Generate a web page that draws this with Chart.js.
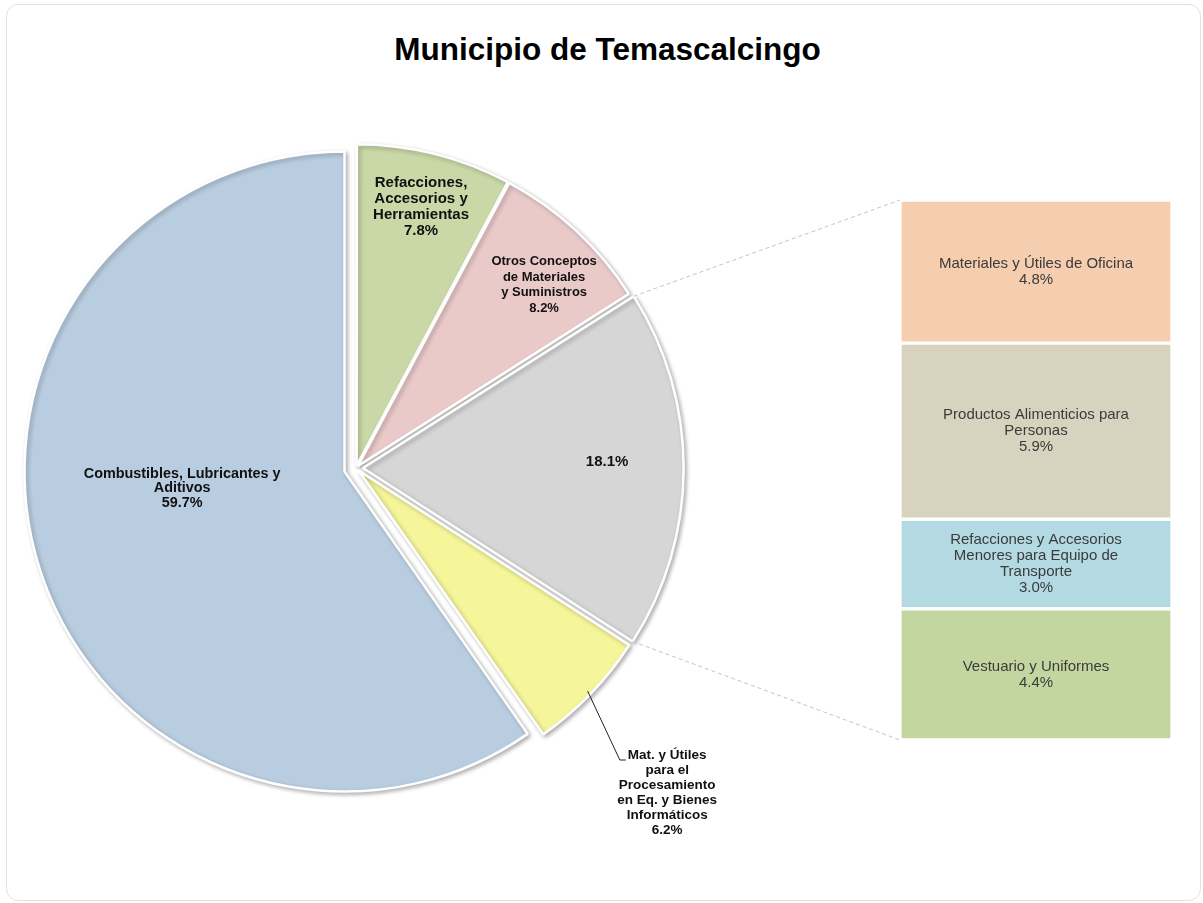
<!DOCTYPE html>
<html>
<head>
<meta charset="utf-8">
<title>Municipio de Temascalcingo</title>
<script src="https://cdn.jsdelivr.net/npm/chart.js@4.4.0/dist/chart.umd.min.js"></script>
<style>
  html, body { margin: 0; padding: 0; background: #fff; }
  #wrap { position: relative; width: 1203px; height: 903px; overflow: hidden; }
  #frame { position: absolute; left: 6px; top: 4px; width: 1193px; height: 895px; border: 1px solid #e2e2e2; border-radius: 12px; }
  #title { position: absolute; left: 0; top: 31px; width: 1203px; padding-left: 12px; box-sizing: border-box; text-align: center; font: bold 31.5px "Liberation Sans", Arial, sans-serif; color: #000; }
  canvas { position: absolute; left: 0; top: 0; }
  #barChart { left: 890px; top: 190px; }
</style>
</head>
<body>
<div id="wrap">
  <div id="frame"></div>
  <div id="title">Municipio de Temascalcingo</div>
  <canvas id="pieBack" width="1203" height="903"></canvas>
  <canvas id="pieChart" width="1203" height="903"></canvas>
  <canvas id="barChart" width="295" height="560"></canvas>
</div>
<script>
// Pie slices, clockwise from 12 o'clock
const pieNames = [
  ["Refacciones,", "Accesorios y", "Herramientas"],
  ["Otros Conceptos", "de Materiales", "y Suministros"],
  [],
  ["Mat. y Útiles", "para el", "Procesamiento", "en Eq. y Bienes", "Informáticos"],
  ["Combustibles, Lubricantes y", "Aditivos"]
];
const pieValues = [7.8, 8.2, 18.1, 6.2, 59.7];
const pieColors = ["#C9D8A6", "#EAC9C9", "#D6D6D6", "#F5F59A", "#B9CDE0"];

// Breakdown of the 18.1% slice (top to bottom)
const barNames = [
  ["Materiales y Útiles de Oficina"],
  ["Productos Alimenticios para", "Personas"],
  ["Refacciones y Accesorios", "Menores para Equipo de", "Transporte"],
  ["Vestuario y Uniformes"]
];
const barValues = [4.8, 5.9, 3.0, 4.4];
const barColors = ["#F5CDAF", "#D8D3BF", "#B3D9E3", "#C4D6A0"];

const barTotal = barValues.reduce((s, v) => s + v, 0);
const FONT = '"Liberation Sans", Arial, sans-serif';
const EXPLODED = 4; // the big slice is pulled out on its own layer

// label placement for pie slices (angle clockwise from top, distance as fraction of radius)
const pieLabelStyle = [
  { angle: 14.0, dist: 0.84, size: 15, lh: 16 },
  { angle: 45.8, dist: 0.82, size: 13, lh: 15.5 },
  { angle: 88.6, dist: 0.785, size: 15, lh: 15 },
  { angle: 136.2, dist: 1.405, size: 13.5, lh: 15, leader: true },
  { angle: 263.4, dist: 0.547, size: 14.4, lh: 14.5 }
];

let barChart;

// Text inside the bar segments
const barText = {
  id: "barText",
  afterDatasetsDraw(chart) {
    const ctx = chart.ctx;
    ctx.save();
    ctx.font = "15px " + FONT;
    ctx.fillStyle = "#3b3b3b";
    ctx.textAlign = "center";
    ctx.textBaseline = "middle";
    chart.data.datasets.forEach((ds, i) => {
      const bar = chart.getDatasetMeta(i).data[0];
      const lines = barNames[i].concat(barValues[i].toFixed(1) + "%");
      const lh = 16;
      const midY = (bar.y + bar.base) / 2;
      const top = midY - ((lines.length - 1) * lh) / 2;
      lines.forEach((t, k) => ctx.fillText(t, bar.x, top + k * lh));
    });
    ctx.restore();
  }
};

// soft shadow under the pie slices
const pieShadow = {
  id: "pieShadow",
  beforeDatasetsDraw(chart) {
    const ctx = chart.ctx;
    ctx.save();
    ctx.shadowColor = "rgba(0,0,0,0.28)";
    ctx.shadowBlur = 4;
    ctx.shadowOffsetX = 2;
    ctx.shadowOffsetY = 2;
  },
  afterDatasetsDraw(chart) {
    chart.ctx.restore();
  }
};

// Labels on the pie slices
const pieLabels = {
  id: "pieLabels",
  afterDatasetsDraw(chart) {
    const ctx = chart.ctx;
    const arcs = chart.getDatasetMeta(0).data;
    ctx.save();
    ctx.fillStyle = "#111";
    ctx.textAlign = "center";
    ctx.textBaseline = "middle";
    arcs.forEach((arc, i) => {
      const st = pieLabelStyle[i];
      const a = ((st.angle - 90) * Math.PI) / 180;
      const px = arc.x + Math.cos(a) * arc.outerRadius * st.dist;
      const py = arc.y + Math.sin(a) * arc.outerRadius * st.dist;
      const lines = pieNames[i].concat(pieValues[i].toFixed(1) + "%");
      ctx.font = "bold " + st.size + "px " + FONT;
      const top = py - ((lines.length - 1) * st.lh) / 2;
      lines.forEach((t, k) => ctx.fillText(t, px, top + k * st.lh));

      if (st.leader) {
        const t = (arc.options.offset || 0) / 4;
        const mid = (arc.startAngle + arc.endAngle) / 2;
        const r = arc.outerRadius + t - 2;
        const sx = arc.x + Math.cos(mid) * r;
        const sy = arc.y + Math.sin(mid) * r;
        const textLeft = px - ctx.measureText(lines[0]).width / 2;
        const y0 = top + 5;
        ctx.strokeStyle = "#222";
        ctx.lineWidth = 1;
        ctx.beginPath();
        ctx.moveTo(sx, sy);
        ctx.lineTo(textLeft - 8, y0);
        ctx.lineTo(textLeft - 2, y0);
        ctx.stroke();
      }
    });
    ctx.restore();
  }
};

// Dashed lines from the 18.1% slice to the bar
const connectors = {
  id: "connectors",
  afterDraw(chart) {
    if (!barChart) return;
    const ctx = chart.ctx;
    const arc = chart.getDatasetMeta(0).data[2];
    const t = (arc.options.offset || 0) / 4;
    const span = arc.endAngle - arc.startAngle;
    const mid = (arc.startAngle + arc.endAngle) / 2;
    const cx = arc.x + Math.cos(mid) * t;
    const cy = arc.y + Math.sin(mid) * t;
    const R = arc.outerRadius + t * (1 - Math.sin(Math.min(Math.PI, span)));
    const ox = barChart.canvas.offsetLeft;
    const oy = barChart.canvas.offsetTop;
    const topBar = barChart.getDatasetMeta(0).data[0];
    const botBar = barChart.getDatasetMeta(barValues.length - 1).data[0];
    const left = topBar.x - topBar.width / 2 + ox;
    const yTop = Math.min(topBar.y, topBar.base) + oy;
    const yBot = Math.max(botBar.y, botBar.base) + oy;

    ctx.save();
    ctx.strokeStyle = "#c4c4c4";
    ctx.lineWidth = 1;
    ctx.setLineDash([4, 3]);
    ctx.beginPath();
    ctx.moveTo(cx + Math.cos(arc.startAngle) * R, cy + Math.sin(arc.startAngle) * R);
    ctx.lineTo(left, yTop);
    ctx.moveTo(cx + Math.cos(arc.endAngle) * R, cy + Math.sin(arc.endAngle) * R);
    ctx.lineTo(left, yBot);
    ctx.stroke();
    ctx.restore();
  }
};

barChart = new Chart(document.getElementById("barChart"), {
  type: "bar",
  data: {
    labels: [""],
    datasets: barValues.map((v, i) => ({
      label: barNames[i].join(" "),
      data: [v],
      backgroundColor: barColors[i],
      borderColor: "rgba(255,255,255,0.85)",
      borderWidth: 2,
      borderSkipped: false,
      barPercentage: 1,
      categoryPercentage: 1
    }))
  },
  options: {
    responsive: false,
    animation: false,
    layout: { padding: { left: 10, right: 13, top: 10, bottom: 10 } },
    scales: {
      x: { display: false, stacked: true },
      y: { display: false, stacked: true, reverse: true, min: 0, max: barTotal }
    },
    plugins: { legend: { display: false }, tooltip: { enabled: false } }
  },
  plugins: [barText]
});

// same slices, showing only the ones on this layer
function pieDataset(onBack) {
  const show = (i) => (i === EXPLODED) === onBack;
  return {
    data: pieValues,
    backgroundColor: pieColors.map((c, i) => (show(i) ? c : "rgba(0,0,0,0)")),
    borderColor: pieColors.map((c, i) => (show(i) ? "#ffffff" : "rgba(0,0,0,0)")),
    borderWidth: 2.5,
    offset: [10, 10, 28, 14, 0],
    radius: 320,
    clip: false
  };
}

const pieOptions = (padding) => ({
  responsive: false,
  animation: false,
  layout: { padding },
  plugins: { legend: { display: false }, tooltip: { enabled: false } }
});

const pieLabelsText = pieNames.map((n) => (n.length ? n.join(" ") : "Otros"));

// exploded "Combustibles" slice, pulled left
new Chart(document.getElementById("pieBack"), {
  type: "pie",
  data: { labels: pieLabelsText, datasets: [pieDataset(true)] },
  options: pieOptions({ left: 20, right: 534, top: 130, bottom: 90 }),
  plugins: [pieShadow]
});

new Chart(document.getElementById("pieChart"), {
  type: "pie",
  data: { labels: pieLabelsText, datasets: [pieDataset(false)] },
  options: pieOptions({ left: 20, right: 511, top: 130, bottom: 97 }),
  plugins: [pieShadow, pieLabels, connectors]
});
</script>
</body>
</html>
